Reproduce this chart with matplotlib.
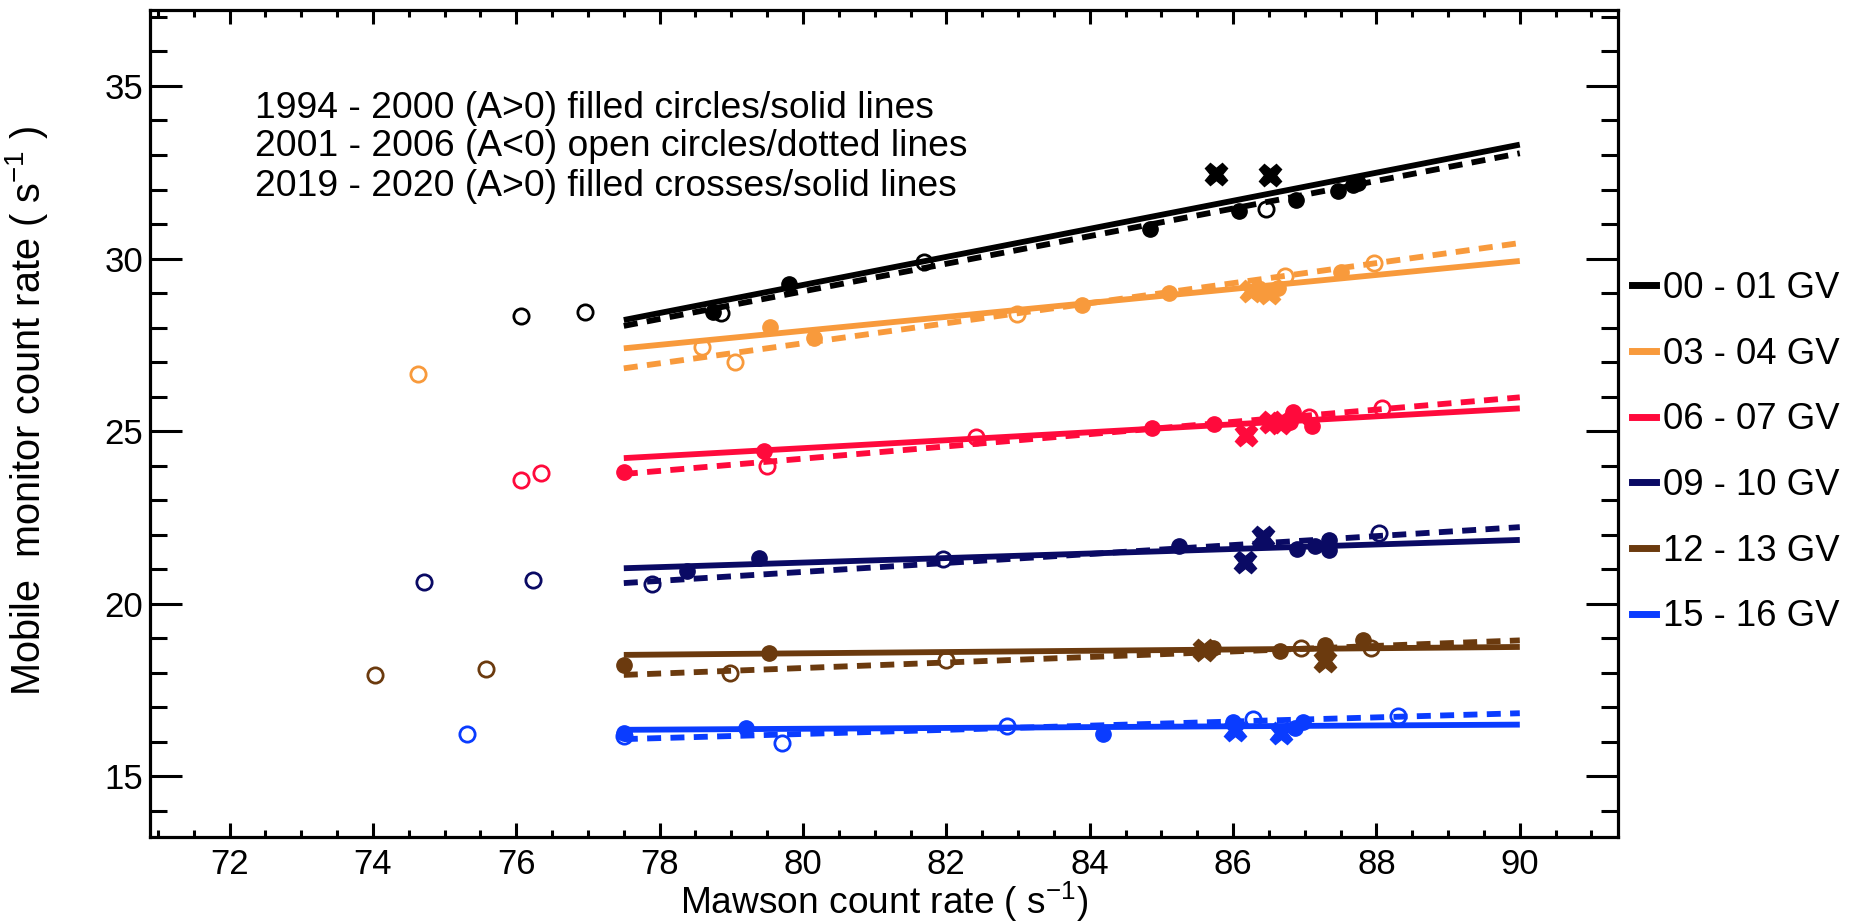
import matplotlib
matplotlib.use("Agg")
import matplotlib.pyplot as plt
from matplotlib.lines import Line2D
from matplotlib.ticker import MultipleLocator

plt.rcParams["font.family"] = ["Liberation Sans", "DejaVu Sans"]
plt.rcParams["mathtext.fontset"] = "custom"
plt.rcParams["mathtext.rm"] = "Liberation Sans"
plt.rcParams["mathtext.default"] = "regular"

# rigidity bands, top to bottom
LABELS = ["00 - 01 GV", "03 - 04 GV", "06 - 07 GV", "09 - 10 GV", "12 - 13 GV", "15 - 16 GV"]
COLORS = ["#000000", "#F89A3C", "#FF0A3C", "#0A0A64", "#6B3A0E", "#0A3CFF"]

# 1994 - 2000 (A>0), filled circles
FILLED_X = [
    [78.75, 79.80, 84.84, 86.08, 86.88, 87.47, 87.67, 87.74],
    [79.54, 80.16, 83.89, 85.11, 86.35, 86.63, 87.51],
    [77.50, 79.46, 84.87, 85.73, 86.79, 86.83, 87.10],
    [78.38, 79.39, 85.25, 86.89, 87.14, 87.34, 87.34],
    [77.50, 79.52, 85.72, 86.65, 87.28, 87.28, 87.81],
    [77.50, 79.20, 84.19, 86.00, 86.86, 86.97],
]
FILLED_Y = [
    [28.46, 29.27, 30.85, 31.38, 31.70, 31.96, 32.13, 32.20],
    [28.01, 27.69, 28.66, 28.99, 29.15, 29.14, 29.62],
    [23.83, 24.44, 25.09, 25.21, 25.28, 25.57, 25.15],
    [20.96, 21.32, 21.66, 21.58, 21.66, 21.85, 21.56],
    [18.23, 18.57, 18.72, 18.62, 18.81, 18.57, 18.96],
    [16.25, 16.40, 16.23, 16.59, 16.40, 16.59],
]

# 2001 - 2006 (A<0), open circles
OPEN_X = [
    [76.06, 76.96, 78.85, 81.69, 86.46],
    [74.63, 78.59, 79.05, 82.98, 86.72, 87.97],
    [76.06, 76.35, 79.50, 82.41, 87.06, 88.08],
    [74.71, 76.23, 77.90, 81.96, 88.04],
    [74.03, 75.58, 78.98, 82.00, 86.95, 87.93],
    [75.31, 77.50, 79.71, 82.85, 86.28, 88.30],
]
OPEN_Y = [
    [28.34, 28.44, 28.42, 29.91, 31.43],
    [26.65, 27.45, 26.99, 28.40, 29.50, 29.88],
    [23.59, 23.80, 23.99, 24.83, 25.42, 25.67],
    [20.63, 20.68, 20.58, 21.29, 22.05],
    [17.94, 18.10, 17.99, 18.36, 18.72, 18.72],
    [16.22, 16.17, 15.98, 16.45, 16.66, 16.74],
]

# 2019 - 2020 (A>0), filled crosses
CROSS_X = [
    [85.76, 86.52],
    [86.25, 86.50],
    [86.18, 86.53, 86.65],
    [86.16, 86.42],
    [85.60, 87.28],
    [86.02, 86.67],
]
CROSS_Y = [
    [32.44, 32.42],
    [29.05, 29.00],
    [24.89, 25.28, 25.23],
    [21.20, 21.93],
    [18.65, 18.33],
    [16.35, 16.25],
]

# fitted lines, y at the two ends of FIT_X
FIT_X = [77.5, 90.0]
SOLID_FIT = [
    [28.22, 33.30],
    [27.40, 29.93],
    [24.22, 25.66],
    [21.03, 21.85],
    [18.52, 18.75],
    [16.35, 16.50],
]
DOTTED_FIT = [
    [28.05, 33.05],
    [26.82, 30.45],
    [23.76, 25.98],
    [20.60, 22.22],
    [17.94, 18.94],
    [16.08, 16.83],
]

NOTES = [
    "1994 - 2000 (A>0) filled circles/solid lines",
    "2001 - 2006 (A<0) open circles/dotted lines",
    "2019 - 2020 (A>0) filled crosses/solid lines",
]

W, H = 1863, 923
fig = plt.figure(figsize=(W / 100, H / 100), dpi=100)
ax = fig.add_axes([150 / W, 1 - 837 / H, (1618 - 150) / W, (837 - 10) / H])

for i, color in enumerate(COLORS):
    ax.plot(FIT_X, SOLID_FIT[i], color=color, lw=4.2, solid_capstyle="butt", zorder=2)
    ax.plot(FIT_X, DOTTED_FIT[i], color=color, lw=4.2, linestyle=(0, (2.4, 1.6)),
            dash_capstyle="butt", zorder=2)
    ax.plot(FILLED_X[i], FILLED_Y[i], "o", color=color, ms=11, mec=color, zorder=3)
    ax.plot(OPEN_X[i], OPEN_Y[i], "o", ms=11, mfc="none", mec=color, mew=2.0, zorder=3)
    ax.plot(CROSS_X[i], CROSS_Y[i], "X", color=color, ms=16, mec=color, zorder=3)

ax.set_xlim(70.89, 91.37)
ax.set_ylim(13.245, 37.2)
ax.xaxis.set_major_locator(MultipleLocator(2))
ax.xaxis.set_minor_locator(MultipleLocator(0.5))
ax.yaxis.set_major_locator(MultipleLocator(5))
ax.yaxis.set_minor_locator(MultipleLocator(1))

for side in ax.spines.values():
    side.set_linewidth(2.3)
ax.tick_params(axis="both", which="both", direction="in", top=True, right=True, width=2.2,
               labelsize=25)
ax.tick_params(axis="x", which="major", length=10, pad=8)
ax.tick_params(axis="x", which="minor", length=5)
ax.tick_params(axis="y", which="major", length=23, pad=5)
ax.tick_params(axis="y", which="minor", length=12)

ax.set_xlabel("Mawson count rate ( s$^{-1}$)", fontsize=26.7)
ax.xaxis.set_label_coords(0.5, -0.052)
ax.set_ylabel("Mobile  monitor count rate ( s$^{-1}$ )", fontsize=28.5)
ax.yaxis.set_label_coords(-0.068, 0.515)

for k, note in enumerate(NOTES):
    fig.text(255 / W, 1 - (108 + 39 * k) / H, note, fontsize=26.8, va="center", ha="left")

handles = [Line2D([0], [0], color=c, lw=5) for c in COLORS]
ax.legend(handles, LABELS, loc="upper left", bbox_to_anchor=(1632 / W, 1 - 271 / H),
          bbox_transform=fig.transFigure, frameon=False, fontsize=26.3, handlelength=0.65,
          handletextpad=0.2, labelspacing=0.84, borderpad=0, borderaxespad=0)

fig.savefig("out.png", dpi=100)
